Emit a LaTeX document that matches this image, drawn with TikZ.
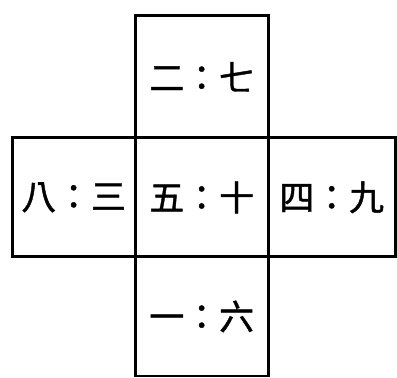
\documentclass[tikz,border=0pt]{standalone}
\usepackage{fontspec}
\newfontfamily\cjk[FakeBold=1.2]{Noto Sans CJK TC}
\usetikzlibrary{positioning}

\tikzset{
  cell/.style={draw, line width=2pt, minimum height=3.0cm, inner sep=0pt, outer sep=0pt, font=\cjk\fontsize{25}{28}\selectfont}
}

\begin{document}
\begin{tikzpicture}[node distance=0cm]
        \useasboundingbox (0,0) rectangle (10,9.52);
        \node[cell, minimum width=3.35cm] (five) at (5.08,4.55) {五：十};
        \node[cell, minimum width=3.35cm, minimum height=3.07cm, above=of five] (two) {二：七};
        \node[cell, minimum width=3.1cm, left=of five] (eight) {八：三};
        \node[cell, minimum width=3.2cm, right=of five] (four) {四：九};
        \node[cell, minimum width=3.35cm, below=of five] (one) {一：六};
    \end{tikzpicture}
\end{document}
